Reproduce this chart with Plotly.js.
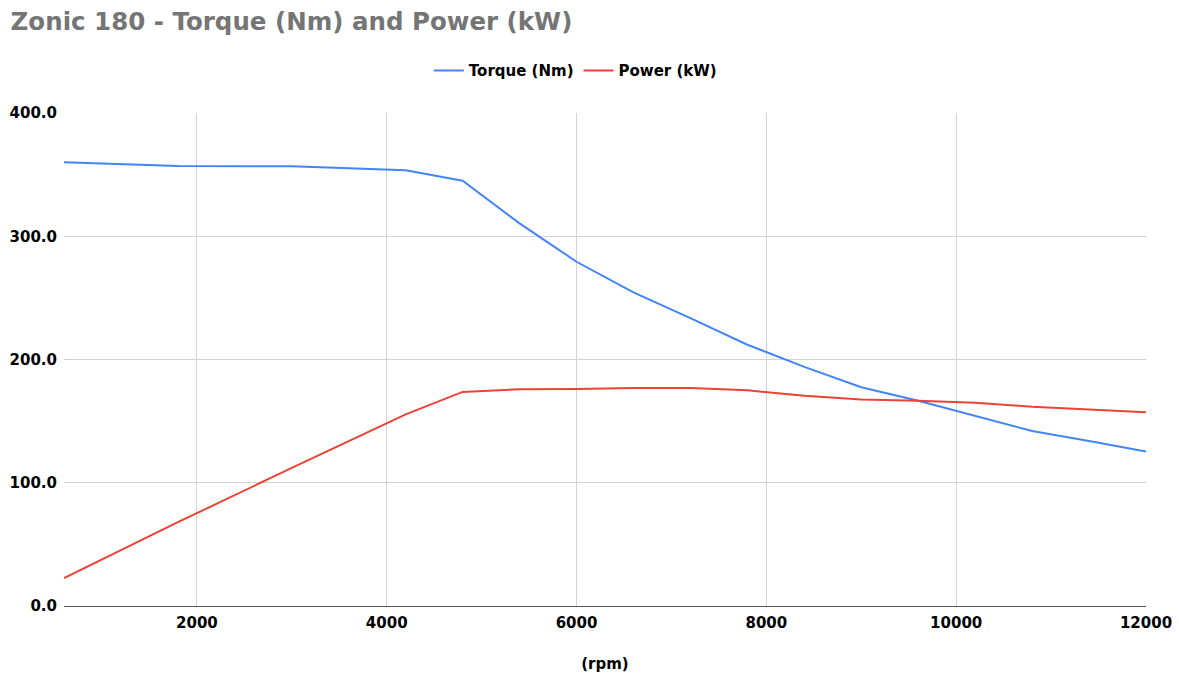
<!DOCTYPE html>
<html>
<head>
<meta charset="utf-8">
<script src="https://cdn.plot.ly/plotly-3.0.1.min.js"></script>
<style>html,body{margin:0;padding:0;background:#fff;}#chart{width:1179px;height:673px;}</style>
</head>
<body>
<div id="chart"></div>
<script>
const rpm = [600, 1800, 3000, 4200, 4800, 5400, 6000, 6600, 7200, 7800, 8400, 9000, 9600, 10200, 10800, 11400, 12000];
const torqueNm = [360, 357, 356.8, 353.5, 345, 310.5, 279.3, 254.5, 233.5, 212, 194, 177.5, 166.5, 154, 142, 133.8, 125.4];
const powerKW = [22.6, 68, 112, 155.5, 173.7, 175.8, 176, 176.8, 176.8, 175, 170.5, 167.6, 166.5, 165, 161.7, 159.6, 157.3];
const yTicks = [0, 100, 200, 300, 400];
const xTicks = [2000, 4000, 6000, 8000, 10000, 12000];

const FAM = '"DejaVu Sans", "Liberation Sans", Arial, sans-serif';
const boldFont = {family: FAM, size: 15, color: '#000', weight: 'bold'};

const traces = [
  {x: rpm, y: torqueNm, name: 'Torque (Nm)', type: 'scatter', mode: 'lines',
   line: {color: '#4285F4', width: 2}},
  {x: rpm, y: powerKW, name: 'Power (kW)', type: 'scatter', mode: 'lines',
   line: {color: '#EA4335', width: 2}}
];

const layout = {
  width: 1179, height: 673,
  margin: {l: 64, r: 33, t: 113, b: 67},
  paper_bgcolor: '#fff', plot_bgcolor: '#fff',
  title: {text: 'Zonic 180 - Torque (Nm) and Power (kW)', x: 0.009, xanchor: 'left', y: 0.968, yanchor: 'middle',
          font: {family: FAM, size: 24.5, color: '#757575', weight: 'bold'}},
  showlegend: true,
  legend: {orientation: 'h', x: 0.488, xanchor: 'center', xref: 'container', y: 0.895, yanchor: 'middle', yref: 'container',
           font: boldFont, itemwidth: 30, tracegroupgap: 0},
  xaxis: {range: [600, 12000], tickvals: xTicks, ticktext: xTicks.map(String),
          showgrid: true, gridcolor: '#d3d3d3', gridwidth: 1, zeroline: false,
          showline: false, ticks: '', tickfont: boldFont, ticklen: 0, ticklabelstandoff: 6,
          title: {text: '(rpm)', font: boldFont, standoff: 27}},
  yaxis: {range: [0, 400], tickvals: yTicks, ticktext: yTicks.map(v => v.toFixed(1)),
          showgrid: true, gridcolor: '#d3d3d3', gridwidth: 1,
          zeroline: true, zerolinecolor: '#555', zerolinewidth: 1,
          showline: false, ticks: '', tickfont: boldFont, ticklabelstandoff: 6},
  hovermode: false
};

Plotly.newPlot('chart', traces, layout, {staticPlot: true, displayModeBar: false});
</script>
</body>
</html>
